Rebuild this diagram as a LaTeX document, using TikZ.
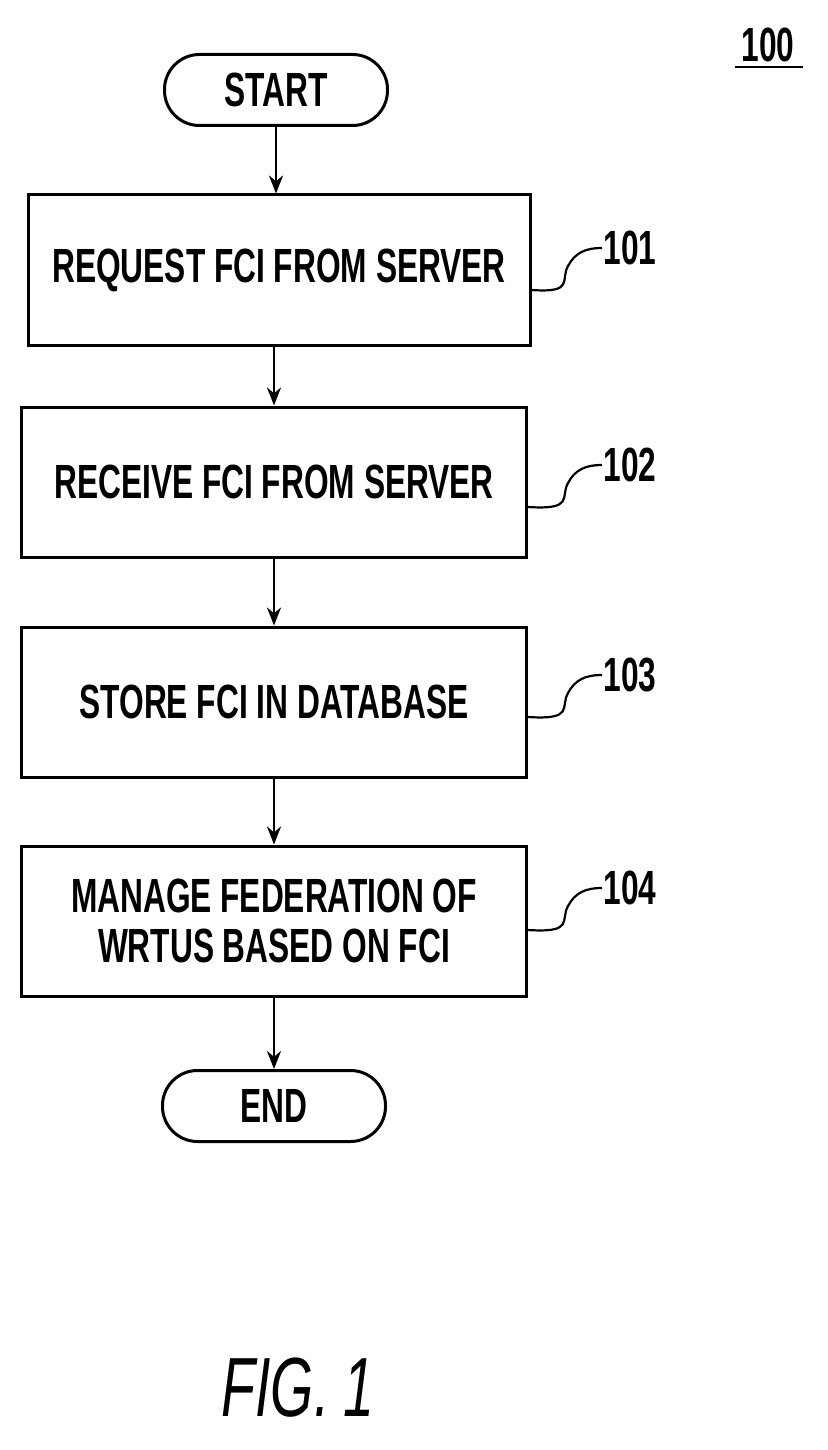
\documentclass[tikz,border=0pt]{standalone}
\usepackage{fontspec}
\newfontfamily\cond[FakeStretch=0.66]{Liberation Sans}
\usetikzlibrary{arrows.meta}
\begin{document}
\begin{tikzpicture}[x=1pt,y=-1pt,
  box/.style={draw,line width=3pt,minimum width=505,minimum height=150,inner sep=0,font=\cond\bfseries\fontsize{48}{56}\selectfont,align=center},
  term/.style={draw,line width=3pt,rounded corners=35,minimum width=223,minimum height=71,inner sep=0,font=\cond\bfseries\fontsize{48}{56}\selectfont},
  arr/.style={line width=2.6pt,-{Stealth[length=18pt,width=14pt]}},
  sq/.style={line width=2.2pt},
  lab/.style={font=\cond\bfseries\fontsize{48}{56}\selectfont,anchor=west}]
\useasboundingbox (0,0) rectangle (827,1450);
\node[term] (s) at (276,90) {START};
\node[box,minimum width=502] (b1) at (279,270) {REQUEST FCI FROM SERVER};
\node[box] (b2) at (274,482) {RECEIVE FCI FROM SERVER};
\node[box] (b3) at (274,702) {STORE FCI IN DATABASE};
\node[box] (b4) at (274,921) {MANAGE FEDERATION OF\\[-6pt]WRTUS BASED ON FCI};
\node[term] (e) at (274,1106) {END};
\draw[arr] (s.south) -- (b1.north -| s.south);
\draw[arr] (b1.south -| b2.north) -- (b2.north);
\draw[arr] (b2) -- (b3);
\draw[arr] (b3) -- (b4);
\draw[arr] (b4) -- (e);
\foreach \b/\n/\y in {b1/101/248,b2/102/465,b3/103/675,b4/104/888}{
  \coordinate (c\n) at (\b.east |- 0,\y+42);
  \coordinate (t\n) at (602,\y);
  \draw[sq] (c\n) .. controls (575,\y+45) and (560,\y+32) .. (568,\y+18) .. controls (575,\y+5) and (585,\y) .. (t\n);
  \node[lab] (l\n) at (600,\y) {\n};
}
\node[font=\cond\bfseries\fontsize{48}{56}\selectfont] (n100) at (768,45) {100};
\draw[line width=2.4pt] (735,67) -- (803,67);
\node[font=\cond\itshape\fontsize{84}{96}\selectfont] (fig) at (298,1388) {FIG.\,1};
\end{tikzpicture}
\end{document}
